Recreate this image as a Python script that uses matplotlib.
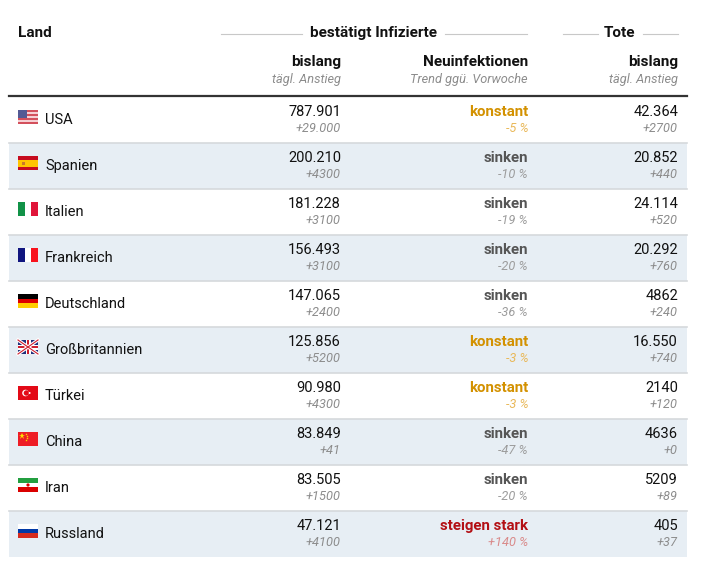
import matplotlib.pyplot as plt
from matplotlib.patches import Rectangle, Circle
import numpy as np

countries = ['USA', 'Spanien', 'Italien', 'Frankreich', 'Deutschland',
             'Großbritannien', 'Türkei', 'China', 'Iran', 'Russland']
flags = ['us', 'es', 'it', 'fr', 'de', 'gb', 'tr', 'cn', 'ir', 'ru']
cases_total = [787901, 200210, 181228, 156493, 147065, 125856, 90980, 83849, 83505, 47121]
cases_daily = [29000, 4300, 3100, 3100, 2400, 5200, 4300, 41, 1500, 4100]
trend_label = ['konstant', 'sinken', 'sinken', 'sinken', 'sinken',
               'konstant', 'konstant', 'sinken', 'sinken', 'steigen stark']
trend_pct = [-5, -10, -19, -20, -36, -3, -3, -47, -20, 140]
deaths_total = [42364, 20852, 24114, 20292, 4862, 16550, 2140, 4636, 5209, 405]
deaths_daily = [2700, 440, 520, 760, 240, 740, 120, 0, 89, 37]

trend_colors = {
    'konstant': ('#d39100', '#e9b858'),
    'sinken': ('#555555', '#9c9c9c'),
    'steigen stark': ('#b30f14', '#d98a8a'),
}

plt.rcParams['font.family'] = ['Roboto', 'DejaVu Sans']


def fmt(v, sign=False):
    s = f'{abs(v):,}'.replace(',', '.') if abs(v) >= 10000 else str(abs(v))
    if sign:
        return ('+' if v >= 0 else '-') + s
    return s


def draw_flag(ax, code, x, y, w=20, h=14):
    def hstripes(cols, ratios=None):
        ratios = ratios or [1] * len(cols)
        tot = sum(ratios)
        yy = y
        for c, r in zip(cols, ratios):
            hh = h * r / tot
            ax.add_patch(Rectangle((x, yy), w, hh, color=c, lw=0))
            yy += hh

    def vstripes(cols):
        ww = w / len(cols)
        for i, c in enumerate(cols):
            ax.add_patch(Rectangle((x + i * ww, y), ww, h, color=c, lw=0))

    if code == 'us':
        hstripes(['#d3505c' if i % 2 == 0 else '#f6d0d4' for i in range(7)])
        ax.add_patch(Rectangle((x, y), w * 0.45, h * 4 / 7, color='#545a94', lw=0))
    elif code == 'es':
        hstripes(['#c60b1e', '#ffc400', '#c60b1e'], [1, 2, 1])
        ax.add_patch(Rectangle((x + 4, y + 5.5), 3, 3.5, color='#c8782a', lw=0))
    elif code == 'it':
        vstripes(['#119247', 'white', '#e0153a'])
    elif code == 'fr':
        vstripes(['#10157f', 'white', '#f8121d'])
    elif code == 'de':
        hstripes(['#000000', '#dd0000', '#ffce00'])
    elif code == 'gb':
        ax.add_patch(Rectangle((x, y), w, h, color='#1f2e7a', lw=0))
        ax.plot([x, x + w], [y, y + h], color='white', lw=2.4)
        ax.plot([x, x + w], [y + h, y], color='white', lw=2.4)
        ax.plot([x, x + w], [y, y + h], color='#cf1f2e', lw=0.8)
        ax.plot([x, x + w], [y + h, y], color='#cf1f2e', lw=0.8)
        ax.add_patch(Rectangle((x, y + h / 2 - 2.5), w, 5, color='white', lw=0))
        ax.add_patch(Rectangle((x + w / 2 - 2.5, y), 5, h, color='white', lw=0))
        ax.add_patch(Rectangle((x, y + h / 2 - 1.3), w, 2.6, color='#cf1f2e', lw=0))
        ax.add_patch(Rectangle((x + w / 2 - 1.3, y), 2.6, h, color='#cf1f2e', lw=0))
    elif code == 'tr':
        ax.add_patch(Rectangle((x, y), w, h, color='#e30a17', lw=0))
        ax.add_patch(Circle((x + 7.5, y + h / 2), 3.3, color='white', lw=0))
        ax.add_patch(Circle((x + 8.4, y + h / 2), 2.7, color='#e30a17', lw=0))
        ax.add_patch(Circle((x + 11.6, y + h / 2), 1.0, color='white', lw=0))
    elif code == 'cn':
        ax.add_patch(Rectangle((x, y), w, h, color='#ee1c25', lw=0))
        ax.plot([x + 4], [y + 4], marker='*', color='#ffde00', ms=4.5, mew=0)
        for dx, dy in [(7.5, 1.9), (9, 3.8), (9, 6.3), (7.5, 8)]:
            ax.plot([x + dx], [y + dy], marker='*', color='#ffde00', ms=1.8, mew=0)
    elif code == 'ir':
        hstripes(['#239f40', 'white', '#da0000'])
        ax.add_patch(Circle((x + w / 2, y + h / 2), 1.6, color='#da0000', lw=0))
    elif code == 'ru':
        hstripes(['white', '#0039a6', '#d52b1e'])


fig = plt.figure(figsize=(7.04, 5.68), dpi=100)
ax = fig.add_axes([0, 0, 1, 1])
ax.set_xlim(0, 704)
ax.set_ylim(568, 0)
ax.axis('off')

left, right = 9, 687
col_cases, col_trend, col_deaths = 341, 528, 678
row_top, row_h = 97, 46

# header
hdr = dict(fontsize=11, fontweight='bold', color='#111111', va='center')
sub = dict(fontsize=9.2, fontstyle='italic', color='#8c8c8c', va='center')
ax.text(18, 33, 'Land', ha='left', **hdr)
ax.text(373, 33, 'bestätigt Infizierte', ha='center', **hdr)
ax.text(620, 33, 'Tote', ha='center', **hdr)
for x0, x1 in [(221, 302), (445, 527), (563, 598), (643, 678)]:
    ax.plot([x0, x1], [34, 34], color='#c8c8c8', lw=0.8)

for xr, t1, t2 in [(col_cases, 'bislang', 'tägl. Anstieg'),
                   (col_trend, 'Neuinfektionen', 'Trend ggü. Vorwoche'),
                   (col_deaths, 'bislang', 'tägl. Anstieg')]:
    ax.text(xr, 62, t1, ha='right', **hdr)
    ax.text(xr, 80, t2, ha='right', **sub)

# rows
for i, name in enumerate(countries):
    y0 = row_top + i * row_h
    if i % 2 == 1:
        ax.add_patch(Rectangle((left, y0), right - left, row_h, color='#e7eef4', lw=0))
    if i > 0:
        ax.plot([left, right], [y0, y0], color='#d6d9dc', lw=1.2)
    draw_flag(ax, flags[i], 18, y0 + 13)
    ax.text(45, y0 + 23, name, ha='left', va='center', fontsize=10.5, color='#111111')

    ax.text(col_cases, y0 + 15, fmt(cases_total[i]), ha='right', va='center',
            fontsize=10.5, color='#111111')
    ax.text(col_cases, y0 + 32, fmt(cases_daily[i], sign=True), ha='right',
            va='center', fontsize=9.2, fontstyle='italic', color='#8c8c8c')

    c1, c2 = trend_colors[trend_label[i]]
    ax.text(col_trend, y0 + 15, trend_label[i], ha='right', va='center',
            fontsize=10.8, fontweight='bold', color=c1)
    ax.text(col_trend, y0 + 32, fmt(trend_pct[i], sign=True) + ' %', ha='right',
            va='center', fontsize=9.2, fontstyle='italic', color=c2)

    ax.text(col_deaths, y0 + 15, fmt(deaths_total[i]), ha='right', va='center',
            fontsize=10.5, color='#111111')
    ax.text(col_deaths, y0 + 32, fmt(deaths_daily[i], sign=True), ha='right',
            va='center', fontsize=9.2, fontstyle='italic', color='#8c8c8c')

ax.plot([left, right], [96, 96], color='#333333', lw=1.6)

fig.savefig('out.png', dpi=100)
